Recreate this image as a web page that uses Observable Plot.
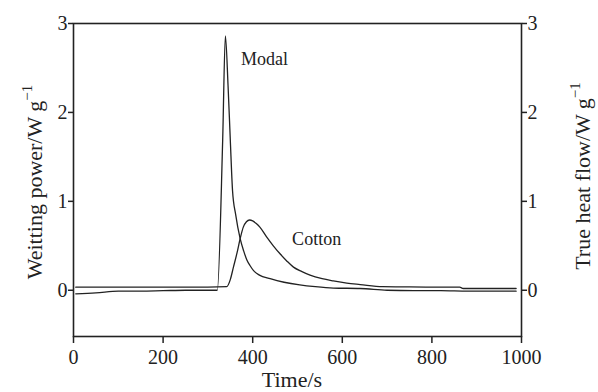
<!DOCTYPE html>
<html><head><meta charset="utf-8">
<script src="https://cdn.jsdelivr.net/npm/d3@7"></script>
<script src="https://cdn.jsdelivr.net/npm/@observablehq/plot@0.6"></script>
<style>
body{margin:0;background:#fff}
svg, svg text{font-family:"Liberation Serif","Times New Roman",serif !important}
svg{display:block}
</style>
</head><body><div id="chart"></div>
<script>
// Modal (sharp peak)
const modalTime  = [5, 50, 100, 150, 200, 250, 300, 321, 333, 339, 345, 350, 355, 362, 372, 380, 387, 395, 402, 415, 439, 470, 505, 540, 580, 640, 700, 760, 820, 880, 940, 988];
const modalPower = [-0.04, -0.03, -0.01, -0.01, -0.005, 0, 0, 0, 1.69, 2.86, 2.3, 1.69, 1.12, 0.85, 0.58, 0.44, 0.34, 0.27, 0.22, 0.17, 0.13, 0.09, 0.06, 0.04, 0.025, 0.02, 0.0, -0.005, -0.005, -0.01, -0.01, -0.01];
// Cotton (broad peak)
const cottonTime  = [5, 100, 200, 300, 342, 350, 357, 365, 372, 379, 386, 393, 400, 408, 416, 431, 446, 461, 476, 491, 510, 528, 555, 580, 610, 640, 690, 750, 800, 862, 870, 930, 988];
const cottonPower = [0.035, 0.035, 0.035, 0.035, 0.04, 0.12, 0.26, 0.42, 0.58, 0.71, 0.77, 0.79, 0.78, 0.75, 0.71, 0.6, 0.5, 0.41, 0.33, 0.26, 0.21, 0.17, 0.13, 0.105, 0.08, 0.064, 0.04, 0.037, 0.035, 0.035, 0.02, 0.02, 0.02];

const xTicks = [0, 200, 400, 600, 800, 1000];
const yTicks = [0, 1, 2, 3];
const labelNames = ["Modal", "Cotton"];
const labelTime  = [374, 488];
const labelValue = [2.6, 0.57];
const xTitle = "Time/s";
const leftTitle  = ["Weitting power/W g", "\u22121"];
const rightTitle = ["True heat flow/W g", "\u22121"];

const modal  = modalTime.map((t, i) => ({t, v: modalPower[i]}));
const cotton = cottonTime.map((t, i) => ({t, v: cottonPower[i]}));
const labels = labelNames.map((name, i) => ({name, t: labelTime[i], v: labelValue[i]}));

const ink = "#222";
const fmt = d => String(d);
const svg = Plot.plot({
  width: 598, height: 392,
  marginLeft: 73, marginRight: 77, marginTop: 23, marginBottom: 56,
  x: {domain: [0, 1000]},
  y: {domain: [-0.52, 3]},
  style: {fontFamily: '"Liberation Serif","Times New Roman",serif', fontSize: "20px", color: ink, background: "#fff"},
  marks: [
    Plot.frame({stroke: ink, strokeWidth: 1.6}),
    Plot.line(modal, {x: "t", y: "v", stroke: ink, strokeWidth: 1.3, curve: "monotone-x"}),
    Plot.line(cotton, {x: "t", y: "v", stroke: ink, strokeWidth: 1.3, curve: "monotone-x"}),
    Plot.axisX({ticks: xTicks, tickFormat: fmt, tickSize: 7, tickPadding: 6, label: null, fontSize: 20, stroke: ink, strokeWidth: 1.5}),
    Plot.axisY({ticks: yTicks, tickFormat: fmt, anchor: "left", tickSize: 5, tickPadding: 1, label: null, fontSize: 20, stroke: ink, strokeWidth: 1.5}),
    Plot.axisY({ticks: yTicks, tickFormat: fmt, anchor: "right", tickSize: 5, tickPadding: 1, label: null, fontSize: 20, stroke: ink, strokeWidth: 1.5}),
    Plot.text(labels, {x: "t", y: "v", text: "name", textAnchor: "start", fontSize: 18, fill: ink})
  ]
});

const s = d3.select(svg);
s.append("text").attr("x", 292).attr("y", 387).attr("text-anchor", "middle")
  .attr("font-size", 22).attr("fill", ink).text(xTitle);

function vTitle(x, y, parts) {
  const t = s.append("text").attr("transform", `translate(${x},${y}) rotate(-90)`)
    .attr("text-anchor", "middle").attr("font-size", 22).attr("fill", ink);
  t.append("tspan").text(parts[0]);
  t.append("tspan").attr("dy", "-0.7em").attr("font-size", 15).text(parts[1]);
}
vTitle(42, 182, leftTitle);
vTitle(590, 176, rightTitle);

document.getElementById("chart").append(svg);
</script>
</body></html>
